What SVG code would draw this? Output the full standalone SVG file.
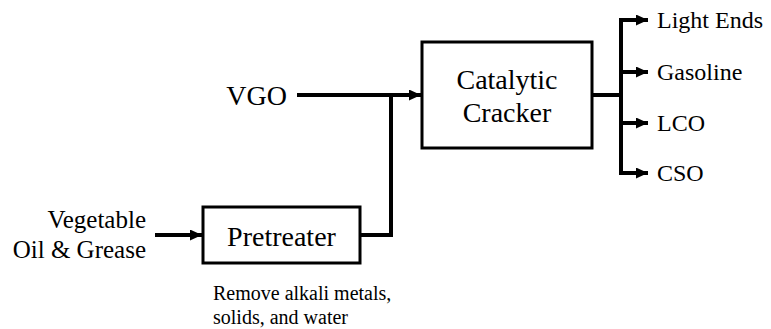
<svg xmlns="http://www.w3.org/2000/svg" width="771" height="329" viewBox="0 0 771 329">
<style>
  .box { fill: #ffffff; stroke: #000000; stroke-width: 3; }
  .line { fill: none; stroke: #000000; stroke-width: 4; }
  .arrow { fill: none; stroke: #000000; stroke-width: 4; marker-end: url(#ah); }
  .t { font-family: "Liberation Serif", "Times New Roman", serif; fill: #000000; }
  .big { font-size: 28px; }
  .med { font-size: 24px; }
  .feedtxt { font-size: 25px; }
  .small { font-size: 20px; }
</style>
<defs>
  <marker id="ah" markerUnits="userSpaceOnUse" markerWidth="12" markerHeight="12" refX="12" refY="5.5" orient="auto">
    <path d="M0,0 L12,5.5 L0,11 z" fill="#000000"/>
  </marker>
</defs>
<rect width="771" height="329" fill="#ffffff"/>
<g id="connectors">
  <path class="arrow" d="M297,95 H421"/>
  <path class="line" d="M359,235 H391 V93"/>
  <path class="arrow" d="M155,235 H202"/>
  <path class="line" d="M592,95 H623"/>
  <path class="line" d="M621,173 V18"/>
  <path class="arrow" d="M619,20 H648"/>
  <path class="arrow" d="M621,72 H648"/>
  <path class="arrow" d="M621,123 H648"/>
  <path class="arrow" d="M619,173 H648"/>
</g>
<g id="cracker">
  <rect class="box" x="422" y="42" width="170" height="106"/>
  <text class="t big" x="507" y="89" text-anchor="middle">Catalytic</text>
  <text class="t big" x="507" y="122" text-anchor="middle">Cracker</text>
</g>
<g id="pretreater">
  <rect class="box" x="203" y="207" width="157" height="56"/>
  <text class="t big" x="281.5" y="246" text-anchor="middle">Pretreater</text>
</g>
<g id="vgo">
  <text class="t big" x="287" y="105" text-anchor="end">VGO</text>
</g>
<g id="feed">
  <text class="t feedtxt" x="146" y="228" text-anchor="end">Vegetable</text>
  <text class="t feedtxt" x="146" y="258" text-anchor="end">Oil &amp; Grease</text>
</g>
<g id="note">
  <text class="t small" x="213" y="300">Remove alkali metals,</text>
  <text class="t small" x="213" y="324">solids, and water</text>
</g>
<g id="products">
  <text class="t med" x="657" y="28">Light Ends</text>
  <text class="t med" x="657" y="80">Gasoline</text>
  <text class="t med" x="657" y="131">LCO</text>
  <text class="t med" x="657" y="181">CSO</text>
</g>
</svg>
